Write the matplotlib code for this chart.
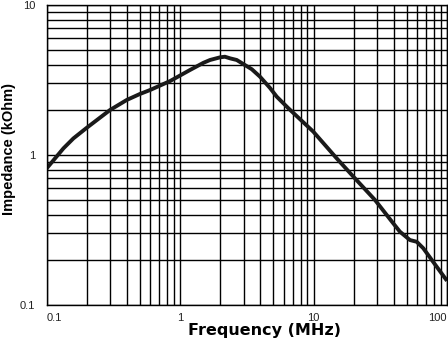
import numpy as np
import matplotlib.pyplot as plt
from matplotlib.ticker import FixedLocator, LogLocator, NullFormatter

plt.rcParams['font.family'] = ['Liberation Sans', 'DejaVu Sans']

# impedance curve of the ferrite bead (frequency in MHz, impedance in kOhm)
freq_mhz = [0.099, 0.134, 0.159, 0.198, 0.299, 0.399, 0.50, 0.596, 0.842, 1.19,
            1.50, 1.68, 2.0, 2.17, 2.37, 2.66, 2.98, 3.45, 3.97, 4.72,
            5.30, 6.48, 9.97, 14.9, 19.9, 28.9, 39.6, 44.4, 52.8, 59.3,
            66.4, 83.7, 100]
impedance_kohm = [0.803, 1.108, 1.29, 1.507, 1.995, 2.327, 2.55, 2.71, 3.11, 3.69,
                  4.12, 4.30, 4.48, 4.52, 4.41, 4.30, 4.04, 3.73, 3.33, 2.80,
                  2.45, 2.05, 1.43, 0.951, 0.717, 0.501, 0.350, 0.308, 0.271, 0.264,
                  0.239, 0.180, 0.145]

x_ticks = [0.1, 1, 10, 100]
x_tick_labels = ['0.1', '1', '10', '100']
y_ticks = [0.1, 1, 10]
y_tick_labels = ['0.1', '1', '10']

W, H = 448, 346
fig = plt.figure(figsize=(W / 100, H / 100), dpi=100)
ax = fig.add_axes([46.5 / W, 41 / H, 400.5 / W, 300 / H])

ax.plot(freq_mhz, impedance_kohm, color='#1a1a1a', lw=2.8,
        solid_joinstyle='round', solid_capstyle='butt')

ax.set_xscale('log')
ax.set_yscale('log')
ax.set_xlim(0.1, 100)
ax.set_ylim(0.1, 10)

# full decade grid, major and minor
ax.xaxis.set_major_locator(FixedLocator(x_ticks))
ax.yaxis.set_major_locator(FixedLocator(y_ticks))
ax.xaxis.set_minor_locator(LogLocator(base=10, subs=np.arange(2, 10)))
ax.yaxis.set_minor_locator(LogLocator(base=10, subs=np.arange(2, 10)))
ax.xaxis.set_minor_formatter(NullFormatter())
ax.yaxis.set_minor_formatter(NullFormatter())
ax.grid(True, which='both', color='black', lw=1.0)
ax.set_axisbelow(True)

ax.set_xticklabels(x_tick_labels)
ax.set_yticklabels(y_tick_labels)
xl = ax.get_xticklabels()
xl[0].set_horizontalalignment('left')
xl[-1].set_horizontalalignment('right')
ax.tick_params(which='both', length=0, labelsize=8, colors='#222222')
ax.tick_params(axis='x', pad=6)
ax.tick_params(axis='y', pad=8)

for s in ax.spines.values():
    s.set_color('black')
    s.set_linewidth(1.0)

fig.text(265 / W, 1 - 331 / H, 'Frequency (MHz)', ha='center', va='center',
         fontsize=11.5, fontweight='bold', family=['DejaVu Sans'])
fig.text(9.5 / W, 1 - 149 / H, 'Impedance (kOhm)', rotation=90,
         ha='center', va='center', fontsize=10.5, fontweight='bold')

fig.savefig('out.png', dpi=100)
